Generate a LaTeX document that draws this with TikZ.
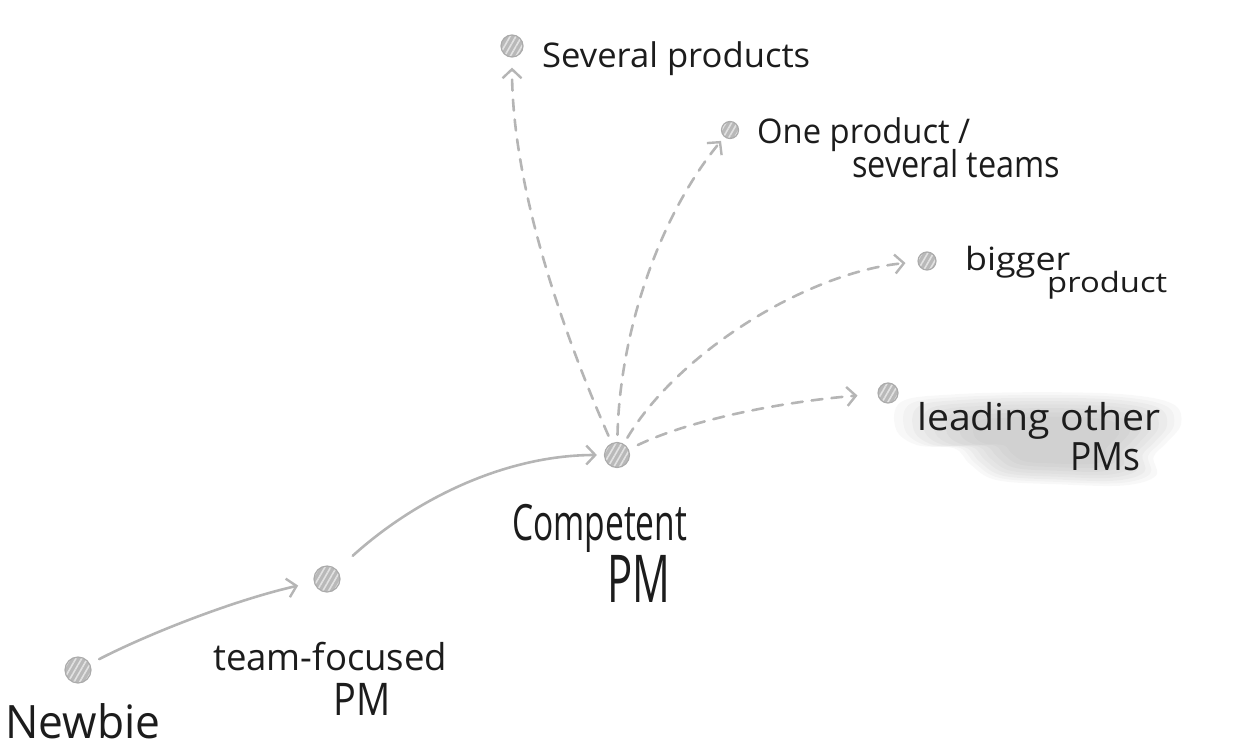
\documentclass[tikz,border=0pt]{standalone}
\usepackage{fontspec}
\setmainfont{Open Sans}
\usetikzlibrary{arrows.meta,patterns.meta}
\definecolor{lncol}{HTML}{B5B5B5}
\definecolor{dotfill}{HTML}{B9B9B9}
\definecolor{dotline}{HTML}{ABABAB}
\definecolor{stripe}{HTML}{E2E2E2}
\definecolor{ink}{HTML}{1C1C1C}
\newcommand{\fitline}[2]{\resizebox{#1pt}{\height}{#2}}
\begin{document}
\begin{tikzpicture}[x=1pt,y=-1pt,
  dot/.style={circle,inner sep=0pt,minimum size=#1,draw=dotline,line width=1.2pt,
    preaction={fill=dotfill},pattern={Lines[angle=60,distance=5pt,line width=1.6pt]},pattern color=stripe},
  link/.style={draw=lncol,line width=2.6pt,line cap=round,-{Straight Barb[length=9pt,width=19pt,line width=2.4pt]}},
  dlink/.style={link,dash pattern=on 11pt off 9pt},
  lbl/.style={font=\fontsize{#1}{#1}\selectfont,text=ink,inner sep=0pt,anchor=base west}]
\useasboundingbox (0,0) rectangle (1244,750);

% shadow blob behind "leading other PMs"
\foreach \s in {1.06,1.0,0.94,0.87,0.8,0.72,0.63,0.54}{
  \begin{scope}[shift={(1055,442)},scale=\s,shift={(-1055,-442)}]
    \fill[gray,opacity=0.055] plot[smooth cycle,tension=0.6] coordinates {
      (910,404) (960,397) (1040,395) (1120,397) (1166,406) (1174,425) (1160,443)
      (1148,456) (1150,474) (1120,483) (1060,482) (1000,478) (975,463) (960,448)
      (925,445) (905,430)};
  \end{scope}
}

% dots
\node[dot=26pt] (n) at (78,670) {};
\node[dot=26pt] (t) at (327,579) {};
\node[dot=25pt] (c) at (617,455) {};
\node[dot=22pt] (s) at (512,46) {};
\node[dot=17pt] (o) at (730,130) {};
\node[dot=18pt] (b) at (927,261) {};
\node[dot=20pt] (l) at (888,393) {};

% connectors
\draw[link,shorten <=10pt,shorten >=16pt] (n) .. controls (150,633) and (235,600) .. (t);
\draw[link,shorten <=21pt,shorten >=7pt] (t) .. controls (420,495) and (510,455) .. (c);
\draw[dlink,shorten <=8pt,shorten >=10pt] (c) .. controls (575,360) and (512,200) .. (s);
\draw[dlink,shorten <=7pt,shorten >=5pt] (c) .. controls (620,330) and (660,215) .. (o);
\draw[dlink,shorten <=7pt,shorten >=12pt] (c) .. controls (680,350) and (810,272) .. (b);
\draw[dlink,shorten <=10pt,shorten >=20pt] (c) .. controls (690,420) and (780,402) .. (l);

% labels
\node[lbl=46] (newbie) at (5,738) {\fitline{155}{Newbie}};
\node[lbl=37] (team1) at (213,670) {\fitline{234}{team-focused}};
\node[lbl=45] (team2) at (333,715) {\fitline{57}{PM}};
\node[lbl=50] (comp1) at (512,540) {\fitline{175}{Competent}};
\node[lbl=66] (comp2) at (607,602) {\fitline{63}{PM}};
\node[lbl=34] (sev) at (542,67) {\fitline{268}{Several products}};
\node[lbl=34] (one1) at (757,143) {\fitline{213}{One product /}};
\node[lbl=37] (one2) at (852,177) {\fitline{208}{several teams}};
\node[lbl=32] (big1) at (965,270) {\fitline{105}{bigger}};
\node[lbl=28] (big2) at (1047,292) {\fitline{120}{product}};
\node[lbl=37] (lead1) at (917,430) {\fitline{243}{leading other}};
\node[lbl=39] (lead2) at (1070,470) {\fitline{70}{PMs}};
\end{tikzpicture}
\end{document}
